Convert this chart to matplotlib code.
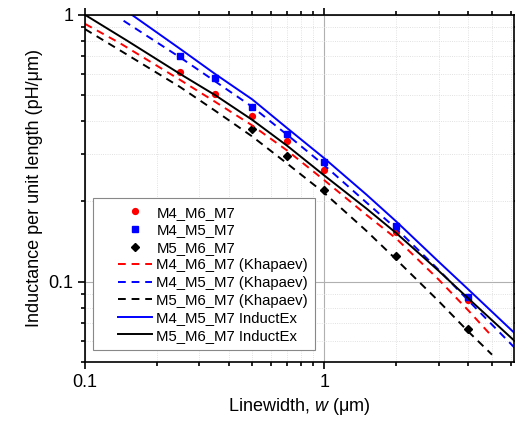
import matplotlib.pyplot as plt
from matplotlib.lines import Line2D
from matplotlib.legend_handler import HandlerLine2D
from matplotlib.ticker import FixedLocator, LogLocator, NullFormatter, FixedFormatter

plt.rcParams['font.family'] = ['Liberation Sans', 'DejaVu Sans']
plt.rcParams['mathtext.fontset'] = 'custom'
plt.rcParams['mathtext.it'] = 'Liberation Sans:italic'

# measured points
w_meas = [0.25, 0.35, 0.5, 0.7, 1, 2, 4]
L_m467 = [0.612, 0.504, 0.416, 0.337, 0.263, 0.154, 0.0857]
L_m457 = [0.698, 0.582, 0.451, 0.358, 0.281, 0.162, 0.088]
w_meas_567 = [0.5, 0.7, 1, 2, 4]
L_m567 = [0.374, 0.295, 0.221, 0.125, 0.0665]

# Khapaev curves
w_kh_467 = [0.1, 0.14, 0.25, 0.35, 0.5, 0.7, 1, 1.5, 2, 3, 4, 5.02]
L_kh_467 = [0.925, 0.783, 0.57, 0.472, 0.385, 0.31, 0.24, 0.178, 0.145, 0.102, 0.078, 0.0624]
w_kh_457 = [0.145, 0.25, 0.35, 0.5, 0.7, 1, 1.5, 2, 3, 4, 6.5]
L_kh_457 = [0.95, 0.692, 0.563, 0.452, 0.355, 0.273, 0.198, 0.158, 0.111, 0.085, 0.0545]
w_kh_567 = [0.1, 0.15, 0.25, 0.35, 0.5, 0.7, 1, 1.5, 2, 3, 4, 5.02]
L_kh_567 = [0.884, 0.709, 0.536, 0.437, 0.35, 0.277, 0.215, 0.155, 0.121, 0.0847, 0.065, 0.0533]

# InductEx curves
w_ix_457 = [0.157, 0.25, 0.35, 0.5, 0.7, 1, 1.5, 2, 3, 4, 6.5]
L_ix_457 = [1.0, 0.745, 0.60, 0.482, 0.376, 0.29, 0.212, 0.168, 0.119, 0.0935, 0.062]
w_ix_567 = [0.1, 0.15, 0.25, 0.35, 0.5, 0.7, 1, 1.5, 2, 3, 4, 6.5]
L_ix_567 = [1.0, 0.80, 0.60, 0.50, 0.404, 0.323, 0.25, 0.188, 0.152, 0.110, 0.0865, 0.058]

fig = plt.figure(figsize=(5.15, 4.23), dpi=100)
ax = fig.add_axes([0.165, 0.144, 0.833, 0.821])

dash = (4, 3)
ax.plot(w_meas, L_m467, 'o', color='#ff0000', ms=4.2, label='M4_M6_M7')
ax.plot(w_meas, L_m457, 's', color='#0000ff', ms=3.8, label='M4_M5_M7')
ax.plot(w_meas_567, L_m567, 'D', color='black', ms=3.6, label='M5_M6_M7')
ax.plot(w_kh_467, L_kh_467, '--', color='#ff0000', lw=1.4, dashes=dash, label='M4_M6_M7 (Khapaev)')
ax.plot(w_kh_457, L_kh_457, '--', color='#0000ff', lw=1.4, dashes=dash, label='M4_M5_M7 (Khapaev)')
ax.plot(w_kh_567, L_kh_567, '--', color='black', lw=1.4, dashes=dash, label='M5_M6_M7 (Khapaev)')
ax.plot(w_ix_457, L_ix_457, '-', color='#0000ff', lw=1.4, label='M4_M5_M7 InductEx')
ax.plot(w_ix_567, L_ix_567, '-', color='black', lw=1.4, label='M5_M6_M7 InductEx')

ax.set_xscale('log')
ax.set_yscale('log')
ax.set_xlim(0.1, 6.2)
ax.set_ylim(0.05, 1)

ax.xaxis.set_major_locator(FixedLocator([0.1, 1]))
ax.xaxis.set_major_formatter(FixedFormatter(['0.1', '1']))
ax.xaxis.set_minor_locator(LogLocator(base=10, subs=range(2, 10)))
ax.xaxis.set_minor_formatter(NullFormatter())
ax.yaxis.set_major_locator(FixedLocator([0.1, 1]))
ax.yaxis.set_major_formatter(FixedFormatter(['0.1', '1']))
ax.yaxis.set_minor_locator(LogLocator(base=10, subs=range(2, 10)))
ax.yaxis.set_minor_formatter(NullFormatter())

ax.grid(True, which='major', color='#b0b0b0', lw=0.8, ls='-')
ax.grid(True, which='minor', color='#d8d8d8', lw=0.6, ls=':')

ax.tick_params(which='both', direction='out', top=True, right=True, labelsize=13, width=1.2)
ax.tick_params(which='major', length=5)
ax.tick_params(which='minor', length=3)
for s in ax.spines.values():
    s.set_linewidth(1.2)

ax.set_xlabel('Linewidth, $w$ (\u03bcm)', fontsize=13)
ax.set_ylabel('Inductance per unit length (pH/\u03bcm)', fontsize=13)

leg = ax.legend(loc='lower left', bbox_to_anchor=(0.0186, 0.0346), borderaxespad=0,
                fontsize=10.7, fancybox=False, edgecolor='#888888', framealpha=1,
                handlelength=3.5, handletextpad=0.27, labelspacing=0.24, borderpad=0.5,
                handler_map={Line2D: HandlerLine2D(xpad=1.2)})
leg.get_frame().set_linewidth(0.8)

plt.savefig('out.png', dpi=100)
